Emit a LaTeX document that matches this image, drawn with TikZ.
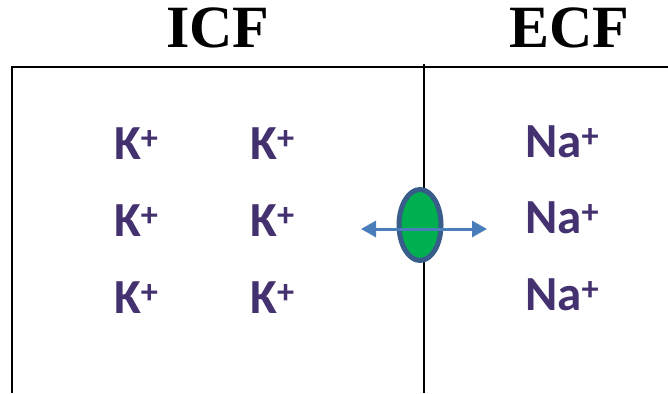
\documentclass[tikz,border=0pt]{standalone}
\usepackage{fontspec}
\setmainfont{Liberation Serif}
\newfontfamily\ionfont{Carlito}
\usetikzlibrary{shapes.geometric,arrows.meta}
\definecolor{ionpurple}{HTML}{44316F}
\definecolor{chanfill}{HTML}{00B050}
\definecolor{chanedge}{HTML}{385D8A}
\definecolor{arrowblue}{HTML}{4A7EBB}
\tikzset{
  title/.style={font=\fontsize{60}{62}\selectfont\bfseries, inner sep=0, anchor=base},
  ion/.style={font=\ionfont\fontsize{49}{52}\selectfont\bfseries, text=ionpurple, inner sep=0, anchor=base west},
  wall/.style={line width=2pt, black},
  channel/.style={ellipse, draw=chanedge, fill=chanfill, line width=5pt, minimum width=42pt, minimum height=71pt, inner sep=0},
  flow/.style={draw=arrowblue, line width=3pt, {Triangle[length=15pt,width=16pt]}-{Triangle[length=15pt,width=16pt]}}
}
\begin{document}
\begin{tikzpicture}[x=1pt,y=-1pt]
\useasboundingbox (0,0) rectangle (668,393);
\node[title] (icf) at (218,48) {ICF};
\node[title] (ecf) at (569,48) {ECF};
\coordinate (tl) at (12,67.5);
\coordinate (tr) at (668,67.5);
\coordinate (bl) at (12,393);
\coordinate (mt) at (424,64.5);
\coordinate (mb) at (424,393);
\draw[wall] (bl) -- (tl) -- (tr);
\draw[wall, line width=2.3pt] (mt) -- (mb);
\node[ion] (k1) at (114,159) {K\textsuperscript{+}};
\node[ion] (k2) at (250,159) {K\textsuperscript{+}};
\node[ion] (k3) at (114,236) {K\textsuperscript{+}};
\node[ion] (k4) at (250,236) {K\textsuperscript{+}};
\node[ion] (k5) at (114,313) {K\textsuperscript{+}};
\node[ion] (k6) at (250,313) {K\textsuperscript{+}};
\node[ion] (n1) at (525,157) {Na\textsuperscript{+}};
\node[ion] (n2) at (525,233) {Na\textsuperscript{+}};
\node[ion] (n3) at (525,310) {Na\textsuperscript{+}};
\node[channel] (ch) at (420,225) {};
\coordinate (al) at (361,229);
\coordinate (ar) at (487,229);
\draw[flow] (al) -- (ar);
\end{tikzpicture}
\end{document}
